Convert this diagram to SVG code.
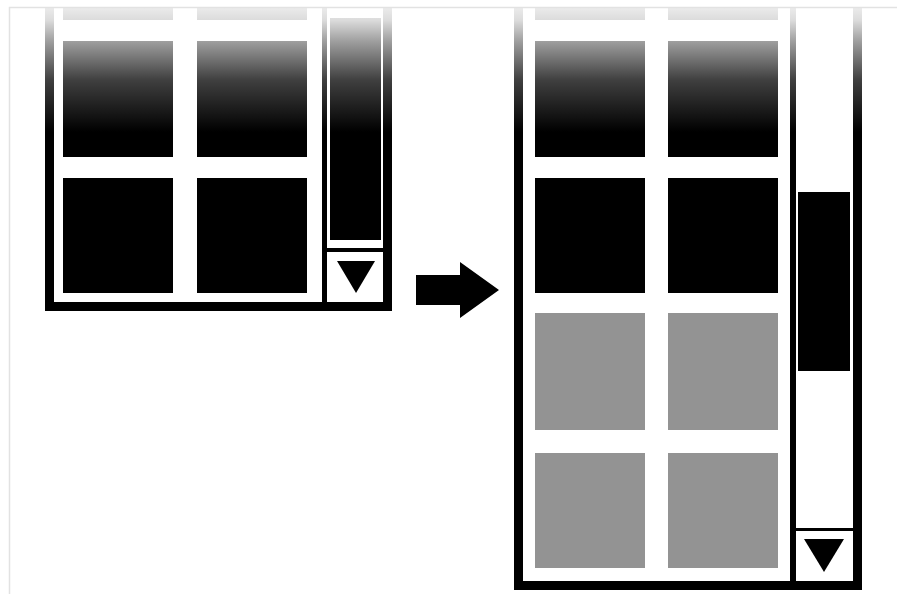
<svg xmlns="http://www.w3.org/2000/svg" width="897" height="594" viewBox="0 0 897 594">
<style>
.blk{fill:#000}
.wht{fill:#fff}
.gry{fill:#939393}
.frame{fill:none;stroke:#e2e2e2;stroke-width:1.5}
</style>
<defs>
<linearGradient id="fade" gradientUnits="userSpaceOnUse" x1="0" y1="8" x2="0" y2="132">
<stop offset="0" stop-color="#fff" stop-opacity="0.92"/>
<stop offset="0.1" stop-color="#fff" stop-opacity="0.86"/>
<stop offset="0.27" stop-color="#fff" stop-opacity="0.62"/>
<stop offset="0.58" stop-color="#fff" stop-opacity="0.25"/>
<stop offset="1" stop-color="#fff" stop-opacity="0"/>
</linearGradient>
</defs>
<rect width="897" height="594" fill="#fff"/>
<g id="left-widget">
<rect class="blk" x="45" y="8" width="347" height="303"/>
<rect class="wht" x="54" y="8" width="268" height="294"/>
<rect class="wht" x="327" y="8" width="56" height="294"/>
<rect class="blk" x="330" y="18" width="51" height="222"/>
<rect class="blk" x="327" y="248" width="56" height="4"/>
<polygon class="blk" points="337,261 375,261 356,293"/>
<rect class="blk" x="63" y="8" width="110" height="12"/>
<rect class="blk" x="197" y="8" width="110" height="12"/>
<rect class="blk" x="63" y="41" width="110" height="116"/>
<rect class="blk" x="197" y="41" width="110" height="116"/>
<rect class="blk" x="63" y="178" width="110" height="115"/>
<rect class="blk" x="197" y="178" width="110" height="115"/>
</g>
<g id="right-widget">
<rect class="blk" x="514" y="8" width="348" height="582"/>
<rect class="wht" x="523" y="8" width="267" height="573"/>
<rect class="wht" x="796" y="8" width="57" height="573"/>
<rect class="blk" x="798" y="192" width="52" height="179"/>
<rect class="blk" x="796" y="528" width="57" height="3"/>
<polygon class="blk" points="804,539 844,539 824,572"/>
<rect class="blk" x="535" y="8" width="110" height="12"/>
<rect class="blk" x="668" y="8" width="110" height="12"/>
<rect class="blk" x="535" y="41" width="110" height="116"/>
<rect class="blk" x="668" y="41" width="110" height="116"/>
<rect class="blk" x="535" y="178" width="110" height="115"/>
<rect class="blk" x="668" y="178" width="110" height="115"/>
<rect class="gry" x="535" y="313" width="110" height="117"/>
<rect class="gry" x="668" y="313" width="110" height="117"/>
<rect class="gry" x="535" y="453" width="110" height="115"/>
<rect class="gry" x="668" y="453" width="110" height="115"/>
</g>
<g id="connectors">
<polygon class="blk" points="416,275 460,275 460,262 499,290 460,318 460,305 416,305"/>
</g>
<rect x="9" y="8" width="888" height="126" fill="url(#fade)"/>
<path class="frame" d="M9.5,594 V7.5 H897"/>
</svg>
